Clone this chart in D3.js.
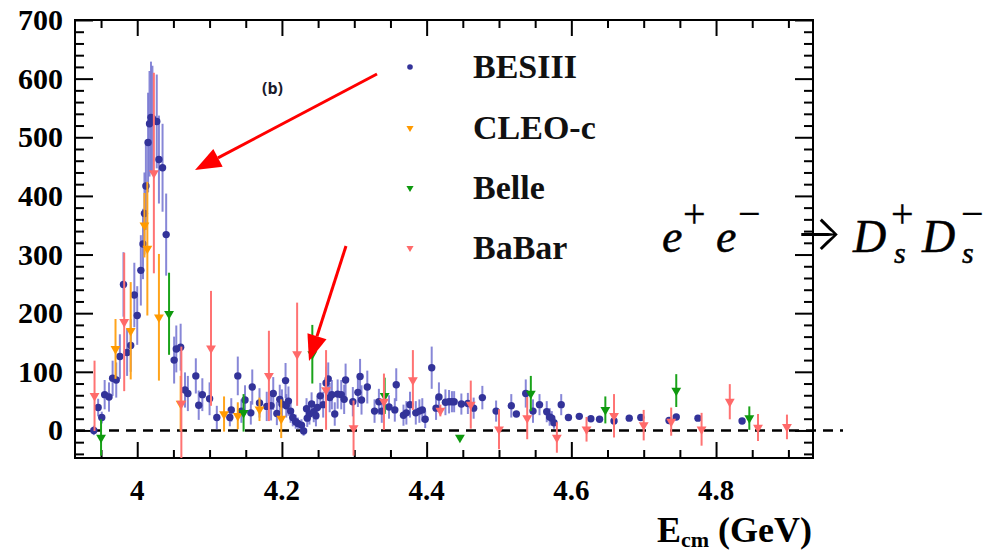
<!DOCTYPE html>
<html><head><meta charset="utf-8">
<script src="https://cdn.jsdelivr.net/npm/d3@7"></script>
<style>body{margin:0;background:#fff}svg{display:block}</style>
</head><body>
<svg id="c" width="992" height="554"></svg>
<script>
// ---------------- data ----------------
const besE = [3.940,3.946,3.951,3.955,3.961,3.966,3.971,3.976,3.981,3.986,3.991,3.996,4.000,4.005,4.008,4.010,4.012,4.015,4.017,4.019,4.021,4.027,4.030,4.035,4.040,4.051,4.054,4.060,4.066,4.070,4.081,4.085,4.090,4.100,4.110,4.128,4.130,4.139,4.144,4.149,4.157,4.159,4.169,4.179,4.185,4.188,4.193,4.197,4.200,4.205,4.206,4.209,4.212,4.215,4.219,4.222,4.227,4.230,4.234,4.235,4.238,4.241,4.244,4.247,4.249,4.253,4.257,4.261,4.264,4.266,4.269,4.273,4.277,4.282,4.286,4.288,4.298,4.305,4.308,4.310,4.318,4.328,4.334,4.338,4.348,4.356,4.358,4.368,4.372,4.377,4.385,4.390,4.394,4.398,4.407,4.413,4.417,4.426,4.431,4.435,4.438,4.448,4.457,4.465,4.477,4.496,4.517,4.524,4.537,4.547,4.556,4.566,4.570,4.573,4.576,4.586,4.596,4.611,4.627,4.639,4.659,4.680,4.696,4.735,4.745,4.775,4.836];
const besV = [0,39,22,61,57,89,86,126,249,133,145,231,196,273,318,370,417,491,523,534,532,527,462,448,334,120,139,142,69,63,93,43,61,54,22,22,35,93,33,52,30,74,47,41,42,63,29,53,45,85,42,50,33,22,15,12,9,-1,37,21,28,45,32,25,39,59,44,81,88,56,61,28,62,61,53,86,49,65,92,52,74,33,49,33,40,35,78,26,30,44,30,33,35,19,107,38,57,48,49,49,49,45,46,38,56,33,42,28,63,33,44,32,23,21,13,44,22,24,20,19,16,21,22,17,23,21,16];
const besErr = [8,15,10,25,25,30,30,38,55,40,45,55,50,60,60,70,75,85,90,95,90,80,75,75,70,40,40,40,30,30,30,25,28,28,20,15,20,33,20,25,20,30,25,25,25,28,20,25,25,30,20,25,20,15,12,10,10,8,18,15,18,20,18,18,20,22,22,28,28,25,25,20,25,25,25,28,25,25,30,25,28,20,22,20,20,20,28,18,20,22,20,20,20,15,36,20,25,22,20,18,18,18,18,18,20,18,20,5,24,20,18,18,15,12,10,18,3,3,3,3,3,3,3,3,3,3,3];

const cleoE = [3.970,3.991,4.010,4.014,4.030,4.060,4.120,4.139,4.169,4.199];
const cleoV = [139,170,350,310,193,46,28,25,36,20];
const cleoErr = [51,83,55,114,108,47,30,23,20,33];

const belleE = [3.950,4.044,4.147,4.242,4.342,4.446,4.544,4.647,4.745,4.846];
const belleV = [-12,199,30,130,59,-12,63,35,68,21];
const belleErr = [31,70,32,50,31,3,30,23,28,20];

const babarE = [3.941,3.982,4.023,4.061,4.102,4.182,4.221,4.261,4.299,4.341,4.381,4.419,4.461,4.500,4.539,4.580,4.621,4.659,4.700,4.738,4.780,4.819,4.858,4.898];
const babarV = [59,185,439,46,140,93,130,69,4,49,86,34,44,2,21,-12,2,25,9,15,2,49,5,6];
const babarErr = [60,118,171,97,98,77,88,68,47,48,51,10,41,34,36,26,21,37,26,24,28,30,23,21];

const seriesNames = ["BESIII","CLEO-c","Belle","BaBar"];
const xTickLabels = ["4","4.2","4.4","4.6","4.8"];
const yTickLabels = ["0","100","200","300","400","500","600","700"];

// ---------------- chart ----------------
const svg = d3.select("#c");
const L=75,R=813,T=20,B=458;
const x = d3.scaleLinear().domain([3.914,4.934]).range([L,R]);
const y = d3.scaleLinear().domain([-47,700]).range([B,T]);

svg.append("defs").append("clipPath").attr("id","clip")
  .append("rect").attr("x",L).attr("y",T).attr("width",R-L).attr("height",B-T);

const xMajor = xTickLabels.map(Number);
const xMinor = d3.range(3.95,4.93,0.05).map(v=>+v.toFixed(2)).filter(v=>!xMajor.some(m=>Math.abs(m-v)<1e-6));
const yMajor = yTickLabels.map(Number);
const yMinor = d3.range(-40,700,20).filter(v=>v%100!==0);

function styleAxis(g){ g.select(".domain").remove(); g.selectAll("line").attr("stroke","#000").attr("stroke-width",2); g.selectAll("text").remove(); }

svg.append("g").attr("transform",`translate(0,${B})`).call(d3.axisBottom(x).tickValues(xMajor).tickSize(-16)).call(styleAxis);
svg.append("g").attr("transform",`translate(0,${B})`).call(d3.axisBottom(x).tickValues(xMinor).tickSize(-8)).call(styleAxis);
svg.append("g").attr("transform",`translate(0,${T})`).call(d3.axisTop(x).tickValues(xMajor).tickSize(-16)).call(styleAxis);
svg.append("g").attr("transform",`translate(0,${T})`).call(d3.axisTop(x).tickValues(xMinor).tickSize(-8)).call(styleAxis);
svg.append("g").attr("transform",`translate(${L},0)`).call(d3.axisLeft(y).tickValues(yMajor).tickSize(-18)).call(styleAxis);
svg.append("g").attr("transform",`translate(${L},0)`).call(d3.axisLeft(y).tickValues(yMinor).tickSize(-9)).call(styleAxis);
svg.append("g").attr("transform",`translate(${R},0)`).call(d3.axisRight(y).tickValues(yMajor).tickSize(-18)).call(styleAxis);
svg.append("g").attr("transform",`translate(${R},0)`).call(d3.axisRight(y).tickValues(yMinor).tickSize(-9)).call(styleAxis);

svg.append("rect").attr("x",L).attr("y",T).attr("width",R-L).attr("height",B-T)
  .attr("fill","none").attr("stroke","#000").attr("stroke-width",2);

// tick labels
const serif = "'Liberation Serif','Times New Roman',serif";
svg.append("g").selectAll("text").data(yTickLabels).join("text")
  .attr("x",63).attr("y",d=>y(+d)+10).attr("text-anchor","end")
  .attr("font-family",serif).attr("font-weight","bold").attr("font-size",30).text(d=>d);
svg.append("g").selectAll("text").data(xTickLabels).join("text")
  .attr("x",d=>x(+d)).attr("y",500).attr("text-anchor","middle")
  .attr("font-family",serif).attr("font-weight","bold").attr("font-size",29).text(d=>d);

// x title
const xt = svg.append("text").attr("x",812).attr("y",542).attr("text-anchor","end")
  .attr("font-family",serif).attr("font-weight","bold").attr("font-size",36);
xt.append("tspan").text("E");
xt.append("tspan").attr("font-size",22).attr("dy",5).text("cm");
xt.append("tspan").attr("dy",-5).text(" (GeV)");

// zero dashed line
svg.append("line").attr("x1",L).attr("x2",843).attr("y1",y(0)).attr("y2",y(0))
  .attr("stroke","#000").attr("stroke-width",2.5).attr("stroke-dasharray","10,7");

// data series
const plot = svg.append("g").attr("clip-path","url(#clip)");
function mk(E,V,Er){ return E.map((e,i)=>({e,v:V[i],er:Er[i]})); }
const series = [
  {name:"BESIII", data:mk(besE,besV,besErr), mc:"#333399", bc:"#7373d1", sym:"circle"},
  {name:"CLEO-c", data:mk(cleoE,cleoV,cleoErr), mc:"#ff9a00", bc:"#ffa41c", sym:"tri"},
  {name:"Belle", data:mk(belleE,belleV,belleErr), mc:"#0e990e", bc:"#1aa31a", sym:"tri"},
  {name:"BaBar", data:mk(babarE,babarV,babarErr), mc:"#ff6a6a", bc:"#ff7373", sym:"tri"}
];
const tri = d3.symbol().type(d3.symbolTriangle).size(42)();
series.forEach(s=>{
  const g = plot.append("g");
  g.selectAll("line").data(s.data).join("line")
    .attr("x1",d=>x(d.e)).attr("x2",d=>x(d.e))
    .attr("y1",d=>y(d.v-d.er)).attr("y2",d=>y(d.v+d.er))
    .attr("stroke",s.bc).attr("stroke-width",2).attr("opacity",s.sym==="circle"?0.85:1);
  if(s.sym==="circle"){
    g.selectAll("circle").data(s.data).join("circle")
      .attr("cx",d=>x(d.e)).attr("cy",d=>y(d.v)).attr("r",3.7).attr("fill",s.mc);
  } else {
    g.selectAll("path").data(s.data).join("path").attr("d",tri)
      .attr("transform",d=>`translate(${x(d.e)},${y(d.v)}) rotate(180)`).attr("fill",s.mc);
  }
});

// legend
const legY = [67,128,188,248];
const lg = svg.append("g");
series.forEach((s,i)=>{
  if(s.sym==="circle") lg.append("circle").attr("cx",410).attr("cy",legY[i]).attr("r",2.8).attr("fill",s.mc);
  else lg.append("path").attr("d",d3.symbol().type(d3.symbolTriangle).size(22)())
    .attr("transform",`translate(410,${legY[i]}) rotate(180)`).attr("fill",s.mc);
  lg.append("text").attr("x",473).attr("y",legY[i]+11).attr("font-family",serif)
    .attr("font-weight","bold").attr("font-size",34).attr("fill","#111").text(seriesNames[i]);
});

// (b) label
svg.append("text").attr("x",262).attr("y",94).attr("font-family","'Open Sans',Arial,sans-serif")
  .attr("font-weight","bold").attr("font-size",16).attr("fill","#1a1a2a").text("(b)");

// red arrows
function arrow(x1,y1,x2,y2){
  const a = Math.atan2(y2-y1,x2-x1), hl=26, hw=10;
  const bx = x2-hl*Math.cos(a), by = y2-hl*Math.sin(a);
  svg.append("line").attr("x1",x1).attr("y1",y1).attr("x2",bx).attr("y2",by)
    .attr("stroke","#ff0000").attr("stroke-width",3);
  const px=-Math.sin(a)*hw, py=Math.cos(a)*hw;
  svg.append("path").attr("d",`M${x2},${y2}L${bx+px},${by+py}L${bx-px},${by-py}Z`).attr("fill","#ff0000");
}
arrow(377,74,195,170);
arrow(346,246,309,361);

// formula
const mf = "'Liberation Serif',serif";
const f = svg.append("g").attr("fill","#000");
function it(tx,xx,yy,fs){ f.append("text").attr("x",xx).attr("y",yy).attr("font-family",mf).attr("font-style","italic")
  .attr("font-size",fs).attr("stroke","#000").attr("stroke-width",0.5).text(tx); }
function op(tx,xx,yy,fs){ f.append("text").attr("x",xx).attr("y",yy).attr("font-family",mf).attr("font-size",fs)
  .attr("stroke","#000").attr("stroke-width",0.3).text(tx); }
it("e",662,252,46);
op("+",683,227,40);
it("e",716,252,46);
op("−",738,227,40);
f.append("text").attr("x",795).attr("y",250).attr("font-family","Inter,'Noto Sans',sans-serif")
  .attr("font-weight",300).attr("font-size",50).text("→");
it("D",853,252,46);
op("+",891,227,40);
it("s",894,263,30);
it("D",922,252,46);
op("−",961,227,40);
it("s",962,263,30);
</script>
</body></html>
